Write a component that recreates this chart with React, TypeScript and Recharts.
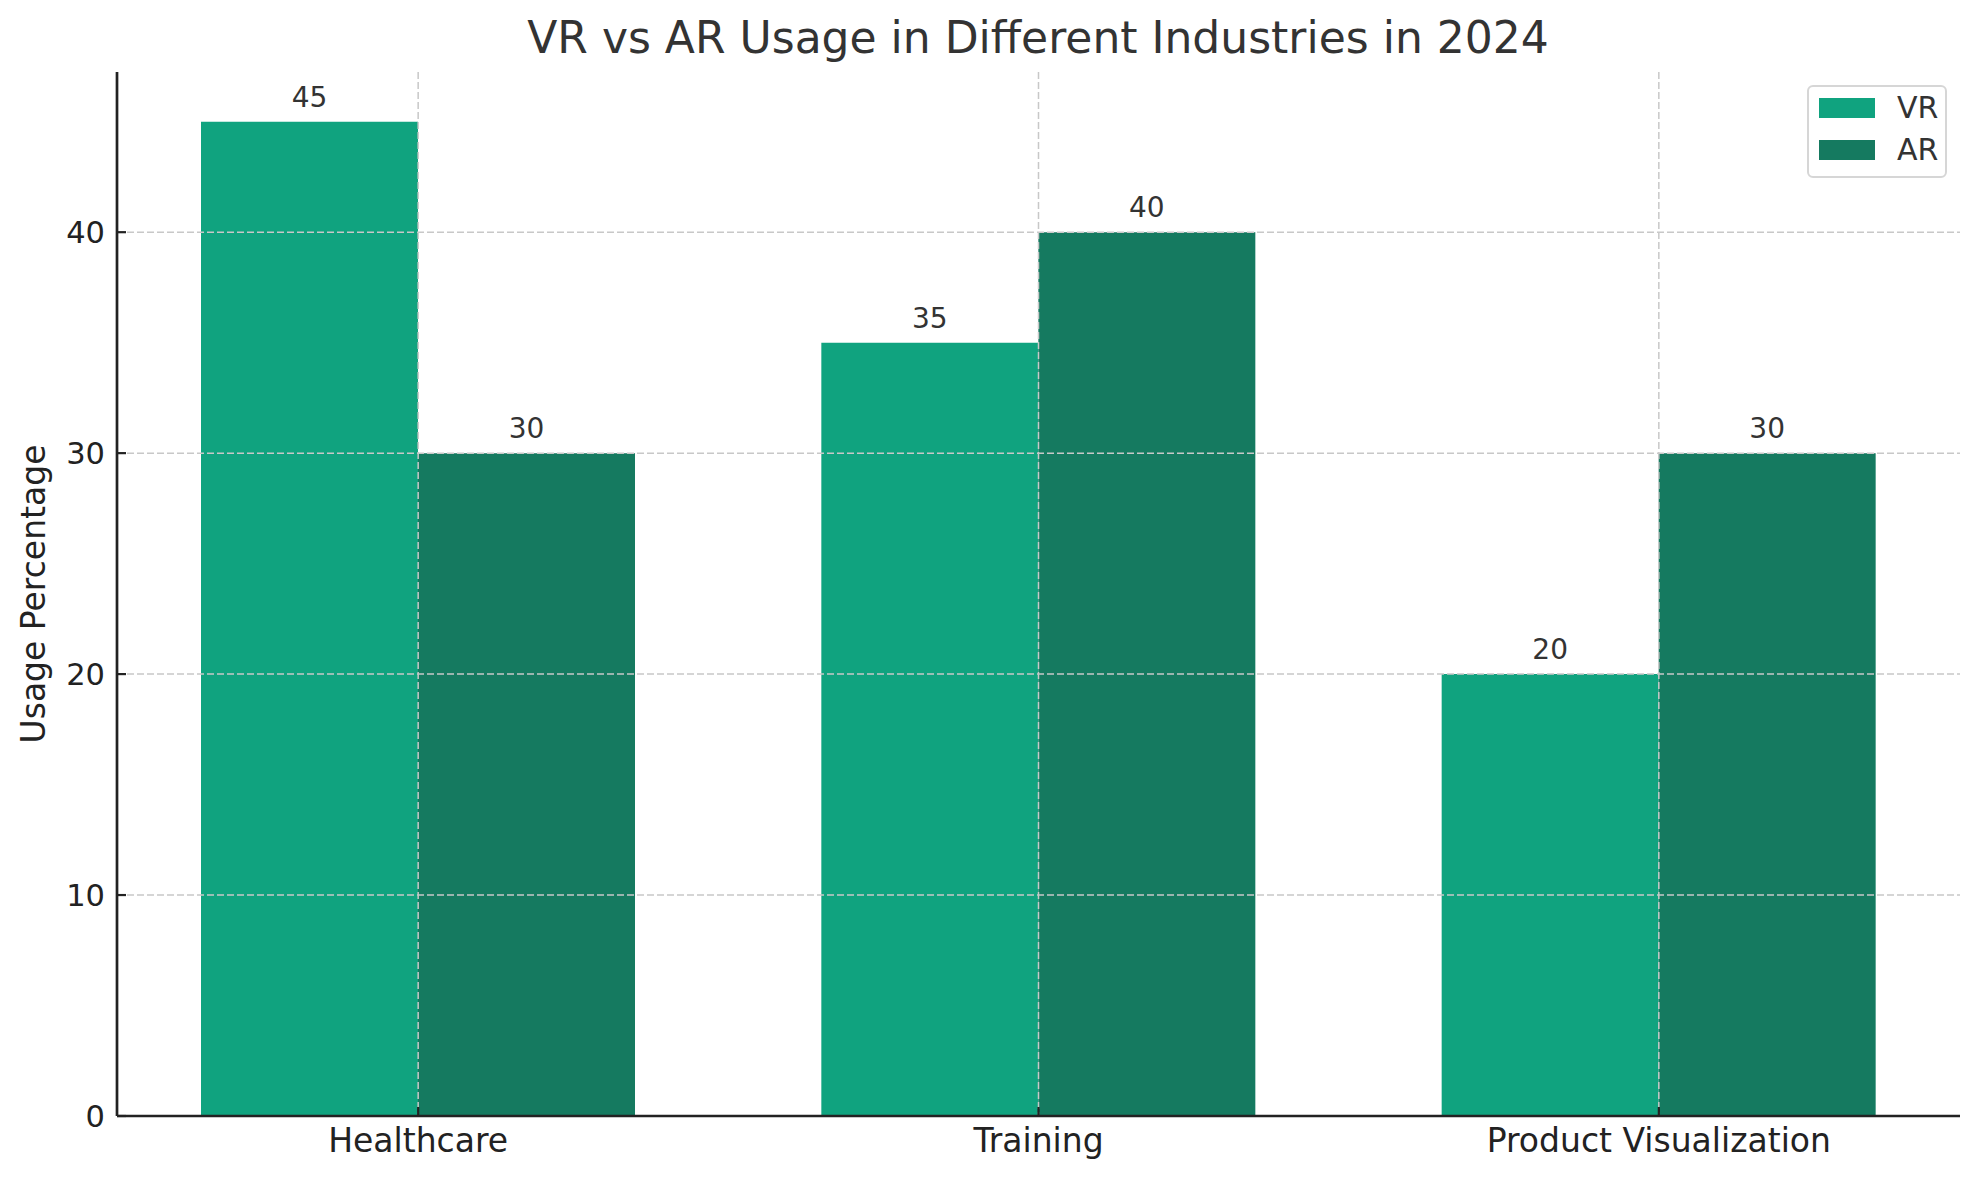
import React from "react";
import {
  BarChart, Bar, XAxis, YAxis, CartesianGrid, Legend, LabelList
} from "recharts";

const industries: string[] = ["Healthcare", "Training", "Product Visualization"];
const vrUsage: number[] = [45, 35, 20];
const arUsage: number[] = [30, 40, 30];
const yTicks: number[] = [0, 10, 20, 30, 40];

const VR_COLOR = "#10a37f";
const AR_COLOR = "#157a60";
const FONT = "'DejaVu Sans', sans-serif";

const data = industries.map((name, i) => ({ name, VR: vrUsage[i], AR: arUsage[i] }));

const W = 1980;
const H = 1180;

const LegendBox = () => (
  <div
    style={{
      width: 136,
      height: 89,
      border: "2px solid #d6d6d6",
      borderRadius: 6,
      background: "rgba(255,255,255,0.8)",
      fontFamily: FONT,
      fontSize: 30,
      color: "#333",
      position: "relative",
    }}
  >
    {[
      { label: "VR", color: VR_COLOR, top: 11 },
      { label: "AR", color: AR_COLOR, top: 53 },
    ].map((it) => (
      <div key={it.label}>
        <div style={{ position: "absolute", left: 10, top: it.top, width: 56, height: 20, background: it.color }} />
        <div style={{ position: "absolute", left: 88, top: it.top - 8, lineHeight: "36px" }}>{it.label}</div>
      </div>
    ))}
  </div>
);

export default function App() {
  return (
    <div style={{ position: "absolute", left: 0, top: 0, width: W, height: H, background: "#fff" }}>
      <BarChart
        width={W}
        height={H}
        data={data}
        margin={{ top: 72, right: 20, left: 0, bottom: 4 }}
        barGap={0}
      >
        <XAxis
          dataKey="name"
          height={60}
          padding={{ left: -9, right: -9 }}
          axisLine={{ stroke: "#222", strokeWidth: 2.7 }}
          tickLine={{ stroke: "#222", strokeWidth: 2.2 }}
          tickSize={-9}
          tickMargin={22}
          tick={{ fill: "#222", fontSize: 33, fontFamily: FONT }}
        />
        <YAxis
          width={117}
          domain={[0, 47.25]}
          ticks={yTicks}
          allowDataOverflow
          axisLine={{ stroke: "#222", strokeWidth: 2.7 }}
          tickLine={{ stroke: "#222", strokeWidth: 2.2 }}
          tickSize={-9}
          tickMargin={21}
          tick={{ fill: "#222", fontSize: 30.5, fontFamily: FONT }}
        />
        <Legend
          verticalAlign="middle"
          align="center"
          layout="vertical"
          wrapperStyle={{ left: 1807, top: 85, width: 140, height: 93 }}
          content={() => <LegendBox />}
        />
        <Bar dataKey="VR" fill={VR_COLOR} barSize={217} isAnimationActive={false}>
          <LabelList dataKey="VR" position="top" offset={15} fill="#333" fontSize={28} fontFamily={FONT} />
        </Bar>
        <Bar dataKey="AR" fill={AR_COLOR} barSize={217} isAnimationActive={false}>
          <LabelList dataKey="AR" position="top" offset={15} fill="#333" fontSize={28} fontFamily={FONT} />
        </Bar>
        <CartesianGrid
          zIndex={350}
          stroke="#c8c8c8"
          strokeWidth={1.5}
          strokeDasharray="7 3"
          horizontalValues={[10, 20, 30, 40]}
          verticalValues={industries}
        />
      </BarChart>
      <svg
        width={W}
        height={H}
        style={{ position: "absolute", left: 0, top: 0, pointerEvents: "none" }}
      >
        <text x={1038} y={53} textAnchor="middle" fontSize={44} fill="#333" fontFamily={FONT}>
          VR vs AR Usage in Different Industries in 2024
        </text>
        <text
          x={45}
          y={594}
          textAnchor="middle"
          fontSize={33}
          fill="#222"
          fontFamily={FONT}
          transform="rotate(-90 45 594)"
        >
          Usage Percentage
        </text>
      </svg>
    </div>
  );
}
